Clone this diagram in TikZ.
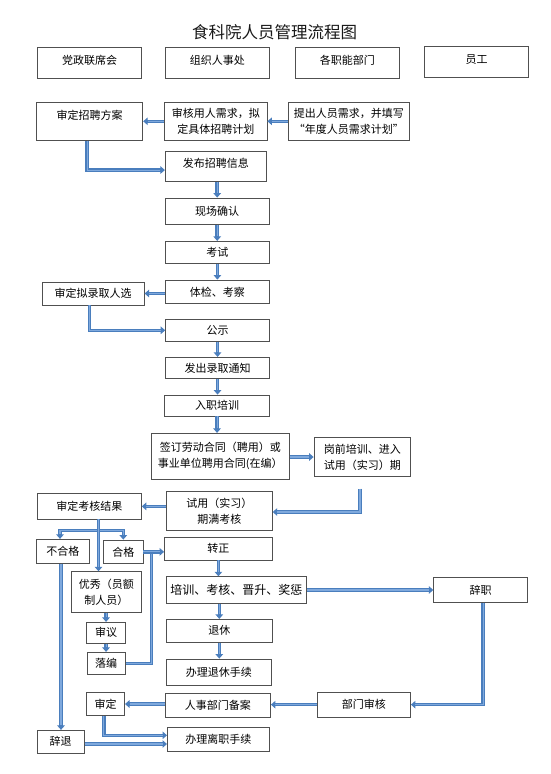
\documentclass[tikz,border=0pt]{standalone}
\usepackage{fontspec}
\newfontfamily\cjk{Noto Sans CJK SC}
\usetikzlibrary{arrows.meta}
\definecolor{pipeC}{HTML}{4A7EBD}
\definecolor{pipeL}{HTML}{7FA9DD}
\definecolor{boxC}{HTML}{505050}
\begin{document}
\begin{tikzpicture}[x=1pt,y=-1pt,
  box/.style={draw=boxC, line width=0.8pt, fill=white, inner sep=0pt, align=center,
    font=\cjk\fontsize{11}{16}\selectfont, text=black},
  pipe/.style={draw=pipeC, line width=3.6pt, -{Triangle[width=7.5pt,length=4.5pt]},
    postaction={draw=pipeL, line width=1.1pt, -, shorten >=4.5pt}},
  pipeline/.style={draw=pipeC, line width=3.6pt, postaction={draw=pipeL, line width=1.1pt}},
  lift/.style={text height=9.7pt, text depth=#1},
]
\useasboundingbox[fill=white] (0,0) rectangle (550,774);

\node[font=\cjk\fontsize{16.5}{20}\selectfont, text={black!90}] (title) at (274.6,32.3) {食科院人员管理流程图};

% header
\node[box, lift=6.3pt, minimum width=104.3pt, minimum height=31pt] (h1) at (89.65,63.2) {党政联席会};
\node[box, lift=6.3pt, minimum width=104.2pt, minimum height=31pt] (h2) at (217.4,62.5) {组织人事处};
\node[box, lift=6.3pt, minimum width=103.9pt, minimum height=31pt] (h3) at (347.35,62.5) {各职能部门};
\node[box, lift=6.3pt, minimum width=103.8pt, minimum height=31pt] (h4) at (476.5,61.8) {员工};

% recruitment
\node[box, lift=13.3pt, minimum width=106.3pt, minimum height=38pt] (b1) at (89.65,121.3) {审定招聘方案};
\node[box, minimum width=102.4pt, minimum height=38pt] (b2) at (215.8,121.3) {审核用人需求，拟\\定具体招聘计划};
\node[box, minimum width=121.1pt, minimum height=38pt] (b3) at (348.95,121.3) {提出人员需求，并填写\\“年度人员需求计划”};
\node[box, lift=7.3pt, minimum width=101pt, minimum height=30.7pt] (b4) at (215.8,166.35) {发布招聘信息};
\node[box, minimum width=103.8pt, minimum height=26.3pt] (b5) at (217.2,211.15) {现场确认};
\node[box, minimum width=104.2pt, minimum height=22.4pt] (b6) at (217.4,252.5) {考试};
\node[box, minimum width=104.2pt, minimum height=23.7pt] (b7) at (217.4,291.85) {体检、考察};
\node[box, minimum width=102.1pt, minimum height=23pt] (b8) at (93.15,293.5) {审定拟录取人选};
\node[box, minimum width=103.9pt, minimum height=22pt] (b9) at (217.55,330.3) {公示};
\node[box, minimum width=103.9pt, minimum height=21.4pt] (b10) at (217.55,368) {发出录取通知};
\node[box, minimum width=104.9pt, minimum height=21pt] (b11) at (217.05,405.5) {入职培训};
\node[box, minimum width=137.5pt, minimum height=45.7pt] (b12) at (220.35,456.15) {签订劳动合同（聘用）或\\事业单位聘用合同(在编）};
\node[box, minimum width=96.5pt, minimum height=38.6pt] (b13) at (362.25,457) {岗前培训、进入\\试用（实习）期};
\node[box, minimum width=106pt, minimum height=39pt] (b14) at (219.3,511.2) {试用（实习）\\期满考核};
\node[box, minimum width=104.2pt, minimum height=25.3pt] (b15) at (89.3,506.35) {审定考核结果};
\node[box, minimum width=52.3pt, minimum height=24pt] (b16) at (62.75,551.3) {不合格};
\node[box, minimum width=39.4pt, minimum height=23.7pt] (b17) at (123.3,551.85) {合格};
\node[box, minimum width=69.6pt, minimum height=40.6pt] (b18) at (106.4,592) {优秀（员额\\制人员）};
\node[box, minimum width=107.8pt, minimum height=22.7pt] (b19) at (218.4,548.65) {转正};
\node[box, minimum width=38.7pt, minimum height=21pt] (b20) at (106.05,632.8) {审议};
\node[box, minimum width=38.4pt, minimum height=22pt] (b21) at (106.2,663.3) {落编};
\node[box, font=\cjk\fontsize{12}{16}\selectfont, minimum width=140pt, minimum height=26.6pt] (b23) at (236.3,590) {培训、考核、晋升、奖惩};
\node[box, minimum width=93.7pt, minimum height=24.6pt] (b24) at (480.55,590) {辞职};
\node[box, minimum width=106pt, minimum height=23pt] (b25) at (219.3,630.8) {退休};
\node[box, minimum width=104.9pt, minimum height=26.3pt] (b26) at (218.75,672.15) {办理退休手续};
\node[box, minimum width=93.3pt, minimum height=24.7pt] (b27) at (363.85,704.65) {部门审核};
\node[box, minimum width=105.2pt, minimum height=23.7pt] (b28) at (217.9,705.15) {人事部门备案};
\node[box, minimum width=37.9pt, minimum height=22.6pt] (b29) at (105.65,704) {审定};
\node[box, minimum width=102.1pt, minimum height=24.3pt] (b30) at (218.45,739.15) {办理离职手续};
\node[box, minimum width=47pt, minimum height=22.7pt] (b31) at (60.7,741.65) {辞退};

% connectors
\draw[pipe] (b3.west) -- (b2.east);
\draw[pipe] (b2.west) -- (b1.east);
\draw[pipe] ([xshift=-2.6pt]b1.south) |- ([yshift=-3.7pt]b4.west);
\draw[pipe] (b4.south -| b5.north) -- (b5.north);
\draw[pipe] (b5.south) -- (b5.south |- b6.north);
\draw[pipe] (b6.south) -- (b6.south |- b7.north);
\draw[pipe] (b7.west |- b8.east) -- (b8.east);
\draw[pipe] ([xshift=-3.65pt]b8.south) |- (b9.west);
\draw[pipe] (b9.south) -- (b9.south |- b10.north);
\draw[pipe] (b10.south) -- (b10.south |- b11.north);
\draw[pipe] (b11.south) -- (b11.south |- b12.north);
\draw[pipe] (b12.east |- b13.west) -- (b13.west);
\draw[pipe] ([xshift=-2.25pt,yshift=-12pt]b13.south) |- ([yshift=-0.8pt]b14.east);
\draw[pipe] (b15.east -| b14.west) -- (b15.east);
\coordinate (forkbar) at ([xshift=9.2pt,yshift=-11pt]b15.south);
\draw[pipe] (forkbar) -| ([xshift=-2.75pt]b16.north);
\draw[pipe] (forkbar) -| (b17.north);
\draw[pipe] ([xshift=9.2pt]b15.south) -- ([xshift=9.2pt]b15.south |- b18.north);
\draw[pipeline] (b21.east) -| ([xshift=8pt]b17.east);
\draw[pipe] (b17.east) -- (b17.east -| b19.west);
\draw[pipe] (b20.north |- b18.south) -- (b20.north);
\draw[pipe] (b20.south) -- (b20.south |- b21.north);
\draw[pipe] (b19.south) -- (b19.south |- b23.north);
\draw[pipe] (b23.east) -- (b23.east -| b24.west);
\draw[pipe] (b25.north |- b23.south) -- (b25.north);
\draw[pipe] (b25.south) -- (b25.south |- b26.north);
\draw[pipe] ([xshift=2.65pt]b24.south) |- (b27.east);
\draw[pipe] (b27.west) -- (b27.west -| b28.east);
\draw[pipe] (b29.east -| b28.west) -- (b29.east);
\draw[pipe] ([xshift=-1.75pt]b29.south) |- ([yshift=3.85pt]b30.west);
\draw[pipe] ([yshift=-2.35pt]b31.east) -- ([yshift=-2.35pt]b31.east -| b30.west);
\draw[pipe] ([xshift=-1.75pt]b16.south) -- ([xshift=-1.75pt]b16.south |- b31.north);
\end{tikzpicture}
\end{document}
